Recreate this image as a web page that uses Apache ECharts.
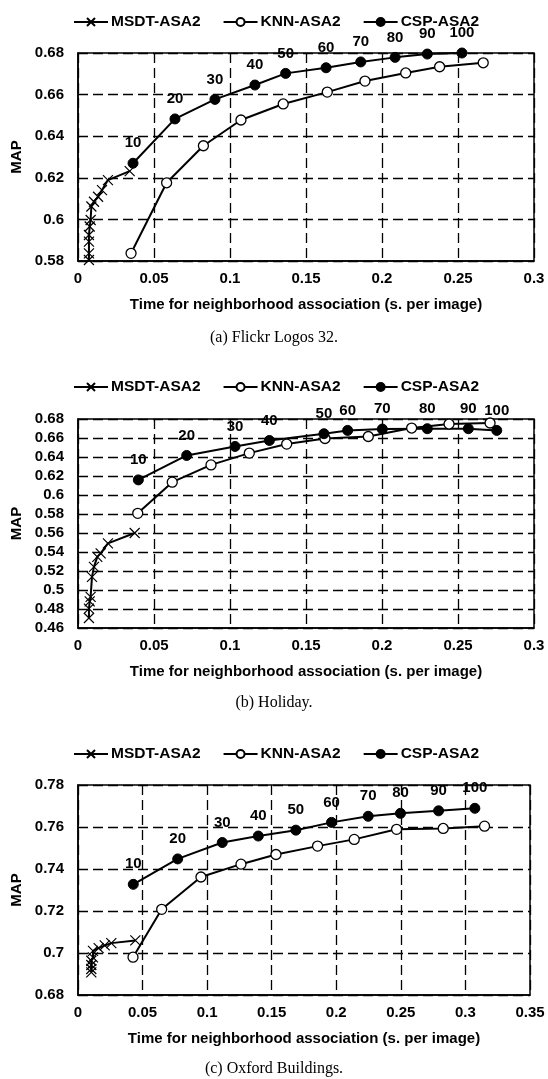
<!DOCTYPE html>
<html>
<head>
<meta charset="utf-8">
<script src="https://cdn.jsdelivr.net/npm/echarts@6/dist/echarts.min.js"></script>
<style>
  html, body { margin: 0; padding: 0; background: #fff; }
  #chart { width: 548px; height: 1079px; }
</style>
</head>
<body>
<div id="chart"></div>
<script>
// neighbourhood size labels for CSP points
const kLabels = ['10', '20', '30', '40', '50', '60', '70', '80', '90', '100']

// (a) Flickr Logos 32
const flickrMsdtX = [0.0072, 0.0072, 0.0072, 0.0072, 0.0077, 0.0083, 0.0088, 0.0105, 0.0132, 0.0158, 0.0197, 0.034]
const flickrMsdtY = [0.5805, 0.5837, 0.5893, 0.5925, 0.5966, 0.5997, 0.6062, 0.6085, 0.6109, 0.6141, 0.6189, 0.6232]
const flickrKnnX = [0.0349, 0.0583, 0.0825, 0.1072, 0.135, 0.164, 0.1888, 0.2156, 0.2379, 0.2666]
const flickrKnnY = [0.5837, 0.6176, 0.6354, 0.6478, 0.6555, 0.6612, 0.6665, 0.6704, 0.6734, 0.6753]
const flickrCspX = [0.0362, 0.0638, 0.0901, 0.1164, 0.1366, 0.1632, 0.186, 0.2086, 0.2298, 0.2526]
const flickrCspY = [0.627, 0.6483, 0.6577, 0.6646, 0.6702, 0.6729, 0.6757, 0.6779, 0.6795, 0.680]

// (b) Holiday
const holidayMsdtX = [0.0072, 0.0072, 0.0077, 0.0083, 0.0092, 0.0105, 0.0127, 0.0149, 0.0197, 0.0373]
const holidayMsdtY = [0.4705, 0.4804, 0.4881, 0.4927, 0.5138, 0.5244, 0.5349, 0.5385, 0.5491, 0.5600]
const holidayKnnX = [0.0393, 0.062, 0.0875, 0.1127, 0.1373, 0.1625, 0.191, 0.2195, 0.2441, 0.2711]
const holidayKnnY = [0.5807, 0.6135, 0.6317, 0.6441, 0.6536, 0.6595, 0.6616, 0.6705, 0.6747, 0.6758]
const holidayCspX = [0.0397, 0.0715, 0.1033, 0.1259, 0.1618, 0.1774, 0.2002, 0.2298, 0.2568, 0.2755]
const holidayCspY = [0.6159, 0.6416, 0.6511, 0.6574, 0.6645, 0.668, 0.6694, 0.6698, 0.6698, 0.668]

// (c) Oxford Buildings
const oxfordMsdtX = [0.0103, 0.0103, 0.0103, 0.0103, 0.0116, 0.0116, 0.016, 0.0207, 0.0258, 0.0444]
const oxfordMsdtY = [0.6908, 0.6924, 0.6943, 0.6963, 0.6979, 0.701, 0.7023, 0.7036, 0.7047, 0.706]
const oxfordKnnX = [0.0426, 0.0648, 0.0952, 0.1262, 0.1533, 0.1855, 0.2139, 0.2467, 0.2828, 0.3148]
const oxfordKnnY = [0.698, 0.7208, 0.7362, 0.7423, 0.7469, 0.7509, 0.7541, 0.7589, 0.7593, 0.7604]
const oxfordCspX = [0.0428, 0.0772, 0.1117, 0.1396, 0.1687, 0.1963, 0.2247, 0.2497, 0.2792, 0.3073]
const oxfordCspY = [0.7327, 0.7448, 0.7526, 0.7557, 0.7585, 0.7622, 0.7651, 0.7665, 0.7677, 0.7689]

// axis ranges per panel
const xMax = [0.3, 0.3, 0.35]
const yMin = [0.58, 0.46, 0.68]
const yMax = [0.68, 0.68, 0.78]
const captions = ['(a) Flickr Logos 32.', '(b) Holiday.', '(c) Oxford Buildings.']

const FONT = 'Liberation Sans, Arial, sans-serif'
const crossPath = 'path://M0,0L10,10M10,0L0,10'

// layout of the three panels (px)
const grids = [
  { left: 78, top: 53, width: 456, height: 208 },
  { left: 78, top: 419, width: 456, height: 209 },
  { left: 78, top: 785, width: 452, height: 210 }
]
const legendTop = [14, 379, 746]
const captionTop = [330, 695, 1061]

const zip = (xs, ys) => xs.map((x, i) => [x, ys[i]])
const fmt = (v) => String(+v.toFixed(2))

const panels = [
  [flickrMsdtX, flickrMsdtY, flickrKnnX, flickrKnnY, flickrCspX, flickrCspY],
  [holidayMsdtX, holidayMsdtY, holidayKnnX, holidayKnnY, holidayCspX, holidayCspY],
  [oxfordMsdtX, oxfordMsdtY, oxfordKnnX, oxfordKnnY, oxfordCspX, oxfordCspY]
]

const series = []
panels.forEach((p, i) => {
  series.push({
    name: 'MSDT-ASA2',
    type: 'line',
    xAxisIndex: i,
    yAxisIndex: i,
    data: zip(p[0], p[1]),
    symbol: crossPath,
    symbolSize: 10,
    clip: false,
    itemStyle: { color: '#000', borderColor: '#000', borderWidth: 1.2 },
    lineStyle: { color: '#000', width: 2 }
  })
  series.push({
    name: 'KNN-ASA2',
    type: 'line',
    xAxisIndex: i,
    yAxisIndex: i,
    data: zip(p[2], p[3]),
    symbol: 'circle',
    symbolSize: 10,
    clip: false,
    itemStyle: { color: '#fff', borderColor: '#000', borderWidth: 1.3 },
    lineStyle: { color: '#000', width: 2 }
  })
  series.push({
    name: 'CSP-ASA2',
    type: 'line',
    xAxisIndex: i,
    yAxisIndex: i,
    data: zip(p[4], p[5]),
    symbol: 'circle',
    symbolSize: 10,
    clip: false,
    itemStyle: { color: '#000', borderColor: '#000', borderWidth: 1 },
    lineStyle: { color: '#000', width: 2 },
    label: {
      show: true,
      position: 'top',
      distance: 7,
      color: '#000',
      fontFamily: FONT,
      fontWeight: 'bold',
      fontSize: 15,
      formatter: (d) => kLabels[d.dataIndex]
    }
  })
})

const option = {
  animation: false,
  backgroundColor: '#fff',
  title: captions.map((c, i) => ({
    text: c,
    left: 'center',
    top: captionTop[i],
    padding: 0,
    textStyle: { fontFamily: 'Liberation Serif, Times New Roman, serif', fontWeight: 'normal', fontSize: 16, color: '#000' }
  })),
  legend: [0, 1, 2].map((i) => ({
    left: 73,
    top: legendTop[i],
    itemWidth: 34,
    itemHeight: 10,
    itemGap: 22,
    padding: 0,
    data: ['MSDT-ASA2', 'KNN-ASA2', 'CSP-ASA2'],
    textStyle: { fontFamily: FONT, fontWeight: 'bold', fontSize: 15.5, color: '#000', padding: [0, 0, 0, -2] }
  })),
  grid: grids.map((g) => ({ ...g, show: true, borderColor: '#000', borderWidth: 1.5, containLabel: false })),
  xAxis: [0, 1, 2].map((i) => ({
    type: 'value',
    gridIndex: i,
    min: 0,
    max: xMax[i],
    interval: 0.05,
    name: 'Time for neighborhood association (s. per image)',
    nameLocation: 'middle',
    nameGap: 36,
    nameTextStyle: { fontFamily: FONT, fontWeight: 'bold', fontSize: 15, color: '#000' },
    axisLine: { lineStyle: { color: '#000', width: 1.5 } },
    axisTick: { show: false },
    axisLabel: { margin: 10, fontFamily: FONT, fontWeight: 'bold', fontSize: 15, color: '#000', formatter: fmt },
    splitLine: { show: true, lineStyle: { color: '#000', width: 1.3, type: [10, 5] } }
  })),
  yAxis: [0, 1, 2].map((i) => ({
    type: 'value',
    gridIndex: i,
    min: yMin[i],
    max: yMax[i],
    interval: 0.02,
    name: 'MAP',
    nameLocation: 'middle',
    nameRotate: 90,
    nameGap: 48,
    nameTextStyle: { fontFamily: FONT, fontWeight: 'bold', fontSize: 15, color: '#000' },
    axisLine: { show: true, lineStyle: { color: '#000', width: 1.5 } },
    axisTick: { show: false },
    axisLabel: { margin: 14, fontFamily: FONT, fontWeight: 'bold', fontSize: 15, color: '#000', formatter: fmt },
    splitLine: { show: true, lineStyle: { color: '#000', width: 1.3, type: [10, 5] } }
  })),
  series
}

const chart = echarts.init(document.getElementById('chart'))
chart.setOption(option)
</script>
</body>
</html>
